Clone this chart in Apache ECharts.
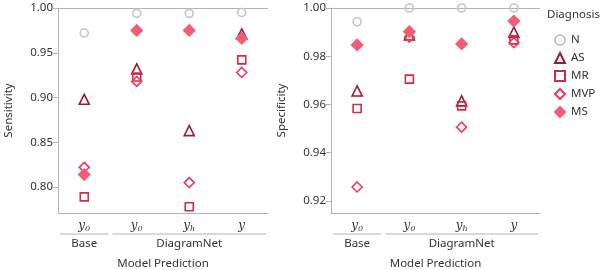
<!DOCTYPE html>
<html><head><meta charset="utf-8">
<script src="https://cdn.jsdelivr.net/npm/echarts@6/dist/echarts.min.js"></script>
<style>html,body{margin:0;padding:0;background:#fff}#c{width:600px;height:270px}</style>
</head><body><div id="c"></div>
<script>
const tickLabels = ['y_0', 'y_0', 'y_h', 'y'];
const groupNames = ['Base', 'DiagramNet'];
const groupSpans = [1, 3];
const diagnoses = ['N', 'AS', 'MR', 'MVP', 'MS'];

const sensN   = [0.972, 0.994, 0.994, 0.995];
const sensAS  = [0.898, 0.932, 0.863, 0.971];
const sensMR  = [0.789, 0.923, 0.778, 0.942];
const sensMVP = [0.822, 0.918, 0.805, 0.928];
const sensMS  = [0.814, 0.975, 0.975, 0.966];

const specN   = [0.9943, 1.000, 1.000, 1.000];
const specAS  = [0.9656, 0.9888, 0.9615, 0.9900];
const specMR  = [0.9583, 0.9705, 0.9594, 0.9868];
const specMVP = [0.9258, 0.9879, 0.9506, 0.9856];
const specMS  = [0.9847, 0.9902, 0.9851, 0.9946];

const sensTicks = [0.80, 0.85, 0.90, 0.95, 1.00];
const specTicks = [0.92, 0.94, 0.96, 0.98, 1.00];

const FONT = 'Noto Sans';
const FS = 11.5;
const styles = {
  N:   {symbol: 'circle',   size: 8,  color: 'rgba(0,0,0,0)', border: '#c4c4c4'},
  AS:  {symbol: 'triangle', size: 10, color: 'rgba(0,0,0,0)', border: '#9e1a36'},
  MR:  {symbol: 'rect',     size: 8,  color: 'rgba(0,0,0,0)', border: '#d42a44'},
  MVP: {symbol: 'diamond',  size: 10, color: 'rgba(0,0,0,0)', border: '#f03a58'},
  MS:  {symbol: 'diamond',  size: 11, color: '#f35c76', border: '#f35c76'}
};
const sensData = {N: sensN, AS: sensAS, MR: sensMR, MVP: sensMVP, MS: sensMS};
const specData = {N: specN, AS: specAS, MR: specMR, MVP: specMVP, MS: specMS};

const cats = tickLabels.map((_, i) => String(i));
function fmtTick(v, i) {
  const t = tickLabels[i];
  const parts = t.split('_');
  return parts.length > 1 ? '{v|' + parts[0] + '}{s|' + parts[1] + '}' : '{v|' + parts[0] + '}';
}
const axisGray = '#b4b4b4';
function xAx(gi) {
  return {
    type: 'category', gridIndex: gi, data: cats, boundaryGap: true,
    axisLine: {lineStyle: {color: axisGray, width: 1}}, axisTick: {show: false},
    axisLabel: {
      interval: 0, margin: 6, formatter: fmtTick,
      rich: {
        v: {fontFamily: 'DejaVu Serif', fontStyle: 'italic', fontSize: 12, color: '#333', lineHeight: 14},
        s: {fontFamily: 'DejaVu Serif', fontStyle: 'italic', fontSize: 8, color: '#333', lineHeight: 8, verticalAlign: 'bottom'}
      }
    }
  };
}
function yAx(gi, name, min, ticks) {
  return {
    type: 'value', gridIndex: gi, min: min, max: 1.0, name: name,
    nameLocation: 'middle', nameGap: 43, nameRotate: 90,
    nameTextStyle: {fontFamily: FONT, fontSize: FS, color: '#333'},
    axisLine: {show: true, lineStyle: {color: axisGray, width: 1}},
    axisTick: {show: true, length: 5, customValues: ticks, lineStyle: {color: axisGray}},
    axisLabel: {customValues: ticks, fontFamily: FONT, fontSize: FS, color: '#333', margin: 5,
      formatter: v => v.toFixed(2)},
    splitLine: {show: false}
  };
}
const series = [];
[[sensData, 0], [specData, 1]].forEach(([d, gi]) => {
  diagnoses.forEach(k => {
    const s = styles[k];
    const ser = {
      type: 'scatter', name: k, xAxisIndex: gi, yAxisIndex: gi,
      symbol: s.symbol, symbolSize: s.size,
      itemStyle: {color: s.color, borderColor: s.border, borderWidth: 1.6, opacity: 1},
      data: d[k].map((v, i) => [String(i), v]),
      emphasis: {disabled: true}, z: 2
    };
    if (k === 'N') {
      ser.markLine = {silent: true, symbol: 'none', label: {show: false},
        lineStyle: {color: axisGray, type: 'solid', width: 1}, data: [{yAxis: 1.0}], z: 1, animation: false};
    }
    series.push(ser);
  });
});

const chart = echarts.init(document.getElementById('c'));
chart.setOption({
  animation: false,
  textStyle: {fontFamily: FONT},
  grid: [
    {left: 58, top: 8, width: 210, bottom: 57},
    {left: 331, top: 8, width: 209, bottom: 57}
  ],
  xAxis: [xAx(0), xAx(1)],
  yAxis: [yAx(0, 'Sensitivity', 0.771, sensTicks), yAx(1, 'Specificity', 0.915, specTicks)],
  legend: {
    orient: 'vertical', left: 549, top: 29, itemWidth: 10, itemHeight: 10, itemGap: 6,
    data: diagnoses, selectedMode: false,
    textStyle: {fontFamily: FONT, fontSize: FS, color: '#333', padding: [0, 0, 0, 1]}
  },
  series: series
});

// group brackets and labels from axis pixel positions
const graphics = [{type: 'text', left: 547, top: 9, style: {text: 'Diagnosis', fontFamily: FONT, fontSize: FS, fill: '#333'}}];
[0, 1].forEach(gi => {
  const c0 = chart.convertToPixel({xAxisIndex: gi}, '0');
  const c1 = chart.convertToPixel({xAxisIndex: gi}, '1');
  const band = c1 - c0;
  const yAxisBottom = chart.convertToPixel({yAxisIndex: gi}, gi === 0 ? 0.771 : 0.915);
  const lineY = yAxisBottom + 21;
  let start = 0;
  groupNames.forEach((g, j) => {
    const x1 = c0 - band / 2 + start * band + 2;
    const x2 = c0 - band / 2 + (start + groupSpans[j]) * band - 2;
    graphics.push({type: 'line', shape: {x1: x1, y1: lineY, x2: x2, y2: lineY}, style: {stroke: axisGray, lineWidth: 1}, silent: true});
    graphics.push({type: 'text', x: (x1 + x2) / 2, y: lineY + 10, style: {text: g, fontFamily: FONT, fontSize: FS, fill: '#333', align: 'center', verticalAlign: 'middle'}});
    start += groupSpans[j];
  });
  const xl = c0 - band / 2, xr = c0 - band / 2 + 4 * band;
  graphics.push({type: 'text', x: (xl + xr) / 2, y: lineY + 30, style: {text: 'Model Prediction', fontFamily: FONT, fontSize: FS, fill: '#333', align: 'center', verticalAlign: 'middle'}});
});
chart.setOption({graphic: graphics});
</script></body></html>
